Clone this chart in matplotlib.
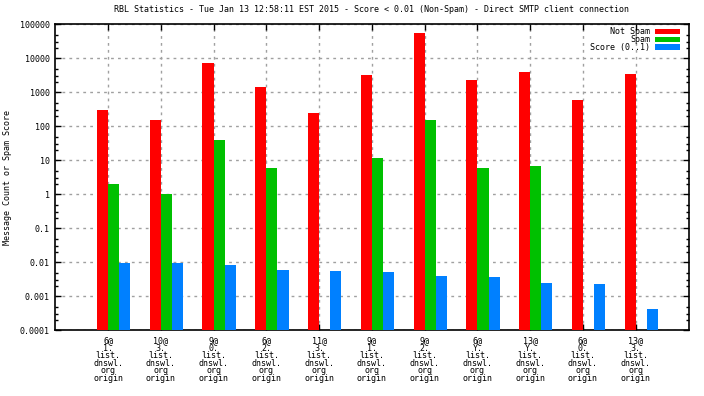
import numpy as np
from matplotlib import pyplot as plt
from matplotlib.ticker import LogLocator, NullFormatter, FixedLocator

# values
hits = ['6@', '10@', '9@', '6@', '11@', '9@', '9@', '6@', '13@', '6@', '13@']
prefix = ['1.', '3.', '0.', '2.', '3.', '1.', '2.', 'Y.', 'Y.', '0.', '3.']
zone = 'list.\ndnswl.\norg\norigin'

not_spam = [300, 150, 7300, 1430, 245, 3230, 55500, 2300, 3950, 600, 3450]
spam = [2.0, 1.0, 40, 6.0, None, 12, 150, 6.0, 7.0, None, None]
score = [0.0095, 0.0095, 0.0085, 0.0059, 0.0055, 0.0052, 0.0040, 0.0037, 0.0025, 0.0023, 0.00042]

title = 'RBL Statistics - Tue Jan 13 12:58:11 EST 2015 - Score < 0.01 (Non-Spam) - Direct SMTP client connection'

plt.rcParams['font.family'] = ['DejaVu Sans Mono']
plt.rcParams['font.size'] = 6

fig = plt.figure(figsize=(7.04, 3.96), dpi=100)
ax = fig.add_axes([0.0785, 0.1655, 0.8995, 0.773])

x = np.arange(len(hits))
w = 0.21
spam_vals = [np.nan if v is None else v for v in spam]
ax.bar(x - w / 2, not_spam, w, color='#ff0000', label='Not Spam', zorder=3)
ax.bar(x + w / 2, spam_vals, w, color='#00c000', label='Spam', zorder=3)
ax.bar(x + 1.5 * w, score, w, color='#0080ff', label='Score (0..1)', zorder=3)

ax.set_yscale('log')
ax.set_ylim(0.0001, 100000)
ax.set_xlim(-1, 11)
ax.yaxis.set_major_locator(FixedLocator([10.0 ** k for k in range(-4, 6)]))
ax.set_yticklabels(['0.0001', '0.001', '0.01', '0.1', '1', '10', '100', '1000', '10000', '100000'])
ax.yaxis.set_minor_locator(LogLocator(base=10, subs=(2.0, 3.0, 5.0)))
ax.yaxis.set_minor_formatter(NullFormatter())

ax.set_xticks(x)
ax.set_xticklabels([h + '\n' + p + '\n' + zone for h, p in zip(hits, prefix)], linespacing=0.8)

ax.tick_params(which='both', direction='in', top=True, right=True, width=1, color='black')
ax.tick_params(which='major', length=4)
ax.tick_params(which='minor', length=2)
ax.tick_params(axis='y', pad=4)
ax.tick_params(axis='x', pad=4)

ax.grid(True, which='major', color='#a0a0a0', linestyle=(0, (2, 3)), linewidth=1, zorder=1)
for s in ax.spines.values():
    s.set_linewidth(1.2)

ax.set_ylabel('Message Count or Spam Score')
ax.yaxis.set_label_coords(-0.068, 0.5)
ax.set_title(title, fontsize=6, pad=9)

leg = ax.legend(loc='upper right', bbox_to_anchor=(0.986, 0.99), frameon=False, markerfirst=False,
                handlelength=2.9, handleheight=0.6, labelspacing=-0.15, handletextpad=0.6,
                borderaxespad=0, borderpad=0)

fig.savefig('out.png', dpi=100)
